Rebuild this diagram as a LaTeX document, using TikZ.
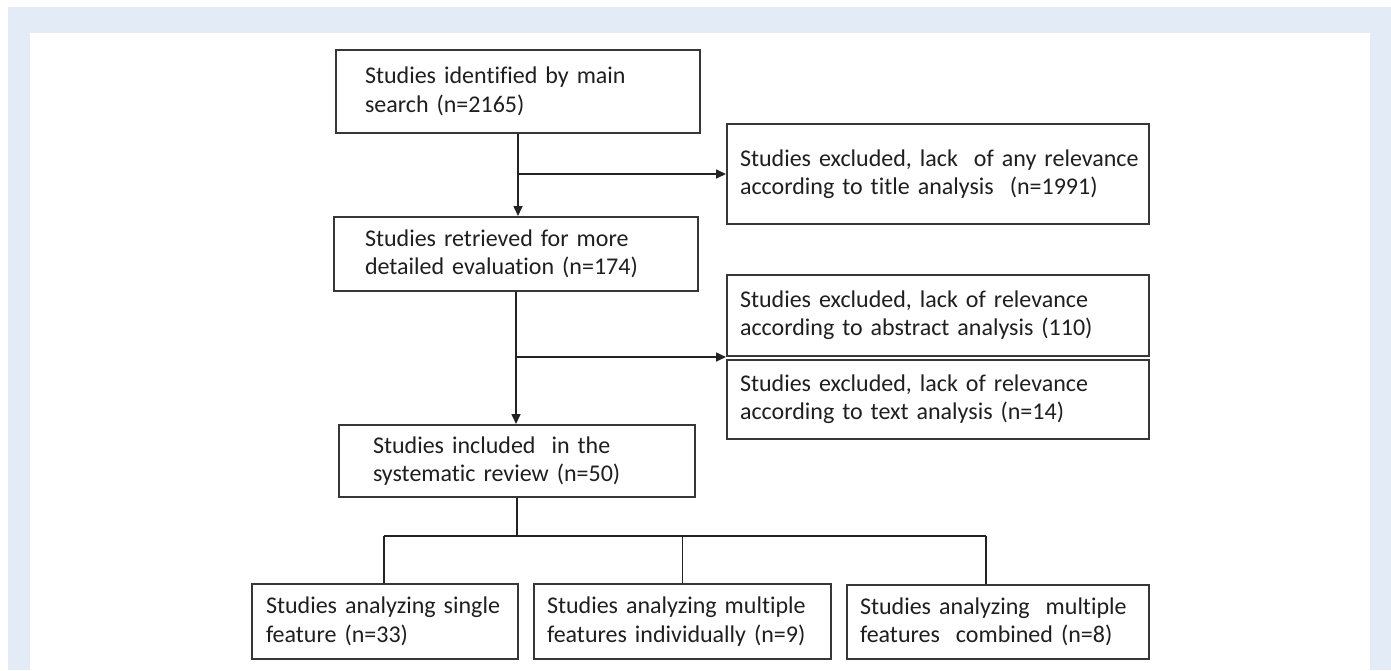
\documentclass[tikz,border=0pt]{standalone}
\usepackage{fontspec}
\setmainfont{Carlito}[Ligatures=CommonOff]
\usetikzlibrary{arrows.meta}
\definecolor{panelblue}{RGB}{227,235,246}
\definecolor{boxgray}{RGB}{55,55,55}
\definecolor{linegray}{RGB}{35,35,35}
\begin{document}
\begin{tikzpicture}[x=0.5pt, y=-0.5pt,
    box/.style={draw=boxgray, line width=1pt, anchor=north west, align=left, inner ysep=0pt,
        text=black!88, font=\fontsize{12}{14.2}\selectfont},
    link/.style={draw=linegray, line width=0.8pt},
    arr/.style={link, -{Triangle[length=5pt, width=4.5pt]}}]
    % Fond
    \useasboundingbox (0,0) rectangle (1391,670);
    \fill[white] (0,0) rectangle (1391,670);
    \fill[panelblue] (8,7) rectangle (1391,670);
    \fill[white] (30,33) rectangle (1370,670);

    % Colonne principale
    \node[box, minimum width=182pt, minimum height=41.5pt, inner xsep=14.5pt, text width=153pt] (ident) at (335,49)
        {\mbox{Studies identified by main}\\\mbox{search (n=2165)}};
    \node[box, minimum width=182pt, minimum height=37pt, inner xsep=15.5pt, text width=151pt] (retr) at (333,216)
        {\mbox{Studies retrieved for more}\\\mbox{detailed evaluation (n=174)}};
    \node[box, minimum width=178pt, minimum height=36pt, inner xsep=17pt, text width=144pt] (incl) at (338,424)
        {\mbox{Studies included\ \ in the}\\\mbox{systematic review (n=50)}};

    % Exclusions
    \node[box, minimum width=211pt, minimum height=50pt, inner xsep=6.5pt, text width=198pt] (title) at (726,123)
        {\mbox{Studies excluded, lack\ \ of any relevance}\\\mbox{according to title analysis\ \ (n=1991)}};
    \node[box, minimum width=211pt, minimum height=40.5pt, inner xsep=6.5pt, text width=198pt] (abstr) at (726,274)
        {\mbox{Studies excluded, lack of relevance}\\\mbox{according to abstract analysis (110)}};
    \node[box, minimum width=211pt, minimum height=39.5pt, inner xsep=6.5pt, text width=198pt] (fulltext) at (726,359)
        {\mbox{Studies excluded, lack of relevance}\\\mbox{according to text analysis (n=14)}};

    % Sous-groupes
    \node[box, minimum width=133pt, minimum height=37.5pt, inner xsep=7pt, text width=119pt] (single) at (251,583)
        {\mbox{Studies analyzing single}\\\mbox{feature (n=33)}};
    \node[box, minimum width=148.5pt, minimum height=37.5pt, inner xsep=6.5pt, text width=135.5pt] (individ) at (533,583)
        {\mbox{Studies analyzing multiple}\\\mbox{features individually (n=9)}};
    \node[box, minimum width=151pt, minimum height=37pt, inner xsep=6.5pt, text width=138pt] (combined) at (846,584)
        {\mbox{Studies analyzing\ \ multiple}\\\mbox{features\ \ combined (n=8)}};

    % Fleches
    \draw[arr] (ident.south) -- (ident.south |- retr.north);
    \draw[arr] (ident.south |- title.west) -- (title.west);
    \draw[arr] (retr.south) -- (retr.south |- incl.north);
    \draw[arr] (retr.south |- abstr.south west) -- (abstr.south west);

    % Arbre du bas
    \coordinate (barL) at (384,536);
    \coordinate (barR) at (986,536);
    \draw[link] (incl.south) -- (incl.south |- barL);
    \draw[link] (barL) -- (barR);
    \draw[link] (barL) -- (barL |- single.north);
    \draw[link] (individ.north |- barL) -- (individ.north);
    \draw[link] (barR) -- (barR |- combined.north);
\end{tikzpicture}
\end{document}
